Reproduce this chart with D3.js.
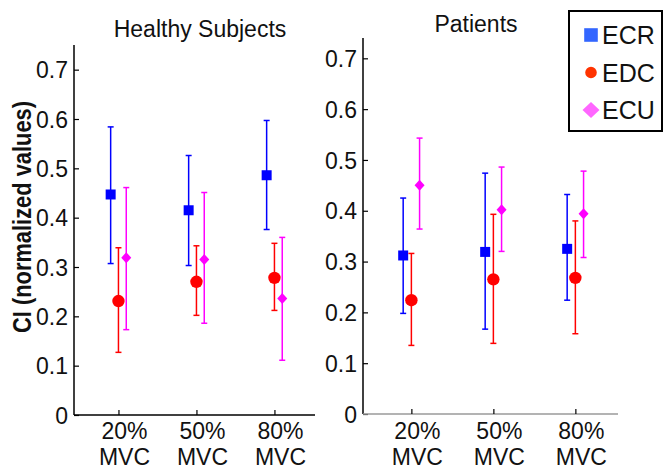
<!DOCTYPE html>
<html>
<head>
<meta charset="utf-8">
<script src="https://cdn.jsdelivr.net/npm/d3@7"></script>
<style>
  body { margin: 0; background: #fff; }
  text { font-family: 'Liberation Sans', Arial, sans-serif; fill: #111; }
</style>
</head>
<body>
<div id="chart"></div>
<script>
var d3 = window.d3

// categories and series
var categories = ['20%', '50%', '80%']
var muscles = ['ECR', 'EDC', 'ECU']
var yTicks = [0, 0.1, 0.2, 0.3, 0.4, 0.5, 0.6, 0.7]

// healthy subjects: mean, lower, upper
var healthyECR = [0.447, 0.415, 0.486]
var healthyECRLow = [0.307, 0.303, 0.376]
var healthyECRHigh = [0.584, 0.526, 0.597]
var healthyEDC = [0.231, 0.270, 0.278]
var healthyEDCLow = [0.127, 0.202, 0.212]
var healthyEDCHigh = [0.339, 0.343, 0.348]
var healthyECU = [0.319, 0.315, 0.236]
var healthyECULow = [0.173, 0.186, 0.111]
var healthyECUHigh = [0.461, 0.451, 0.360]

// patients: mean, lower, upper
var patientsECR = [0.312, 0.319, 0.325]
var patientsECRLow = [0.198, 0.167, 0.224]
var patientsECRHigh = [0.425, 0.474, 0.432]
var patientsEDC = [0.224, 0.265, 0.268]
var patientsEDCLow = [0.135, 0.139, 0.158]
var patientsEDCHigh = [0.316, 0.393, 0.380]
var patientsECU = [0.450, 0.402, 0.394]
var patientsECULow = [0.364, 0.320, 0.308]
var patientsECUHigh = [0.543, 0.486, 0.478]

var colors = { ECR: '#0000ff', EDC: '#ff0000', ECU: '#ff00ff' }
var legendColors = { ECR: '#3366ff', EDC: '#ff3300', ECU: '#ff66ff' }
var offsets = { ECR: -0.1, EDC: 0, ECU: 0.1 }

var w = 664
var h = 469

var svg = d3.select('#chart').append('svg')
  .attr('width', w)
  .attr('height', h)

function build (mean, low, high) {
  return mean.map(function (m, i) { return { idx: i + 1, mean: m, low: low[i], high: high[i] } })
}

var panels = [
  {
    title: 'Healthy Subjects', titleX: 200, titleY: 37,
    xRange: [74, 315], xDomain: [0.43, 3.52],
    yRange: [415, 45], yDomain: [0, 0.75],
    xAxisColor: '#000',
    series: {
      ECR: build(healthyECR, healthyECRLow, healthyECRHigh),
      EDC: build(healthyEDC, healthyEDCLow, healthyEDCHigh),
      ECU: build(healthyECU, healthyECULow, healthyECUHigh)
    }
  },
  {
    title: 'Patients', titleX: 476, titleY: 32,
    xRange: [363, 618], xDomain: [0.41, 3.52],
    yRange: [414, 38], yDomain: [0, 0.74],
    xAxisColor: '#9a9a9a',
    series: {
      ECR: build(patientsECR, patientsECRLow, patientsECRHigh),
      EDC: build(patientsEDC, patientsEDCLow, patientsEDCHigh),
      ECU: build(patientsECU, patientsECULow, patientsECUHigh)
    }
  }
]

function markerPath (name, s) {
  if (name === 'ECR') return 'M' + (-s) + ',' + (-s) + 'h' + (2 * s) + 'v' + (2 * s) + 'h' + (-2 * s) + 'Z'
  if (name === 'EDC') return d3.symbol().type(d3.symbolCircle).size(Math.PI * s * s)()
  return 'M0,' + (-s * 1.1) + 'L' + s + ',0L0,' + (s * 1.1) + 'L' + (-s) + ',0Z'
}
var markerSize = { ECR: 5, EDC: 6.2, ECU: 5 }

panels.forEach(function (p) {
  var x = d3.scaleLinear().domain(p.xDomain).range(p.xRange)
  var y = d3.scaleLinear().domain(p.yDomain).range(p.yRange)
  var g = svg.append('g')

  // y axis
  var yAxis = g.append('g')
    .attr('transform', 'translate(' + p.xRange[0] + ',0)')
    .call(d3.axisRight(y).tickValues(yTicks).tickSize(5).tickFormat(d3.format('')))
  yAxis.select('.domain').attr('d', 'M0,' + p.yRange[0] + 'V' + p.yRange[1]).attr('stroke', '#000').attr('stroke-width', 1.5)
  yAxis.selectAll('.tick line').attr('stroke', '#000').attr('stroke-width', 1.2)
  yAxis.selectAll('.tick text')
    .attr('x', -6)
    .attr('dy', '0.35em')
    .attr('text-anchor', 'end')
    .style('font-size', '23px')

  // x axis
  var xAxis = g.append('g')
    .attr('transform', 'translate(0,' + p.yRange[0] + ')')
    .call(d3.axisTop(x).tickValues([1, 2, 3]).tickSize(5).tickFormat(''))
  xAxis.select('.domain').attr('d', 'M' + p.xRange[0] + ',0H' + p.xRange[1]).attr('stroke', p.xAxisColor).attr('stroke-width', 1.5)
  xAxis.selectAll('.tick line').attr('stroke', '#000').attr('stroke-width', 1.2)

  categories.forEach(function (c, i) {
    var lbl = g.append('text')
      .attr('x', x(i + 1) + 6)
      .attr('text-anchor', 'middle')
      .style('font-size', '23px')
    lbl.append('tspan').attr('x', x(i + 1) + 6).attr('y', 439).text(c)
    lbl.append('tspan').attr('x', x(i + 1) + 6).attr('y', 465).text('MVC')
  })

  // title
  g.append('text').text(p.title)
    .attr('x', p.titleX)
    .attr('y', p.titleY)
    .attr('text-anchor', 'middle')
    .style('font-size', '23px')

  // error bars and markers
  muscles.forEach(function (m) {
    var data = p.series[m]
    var sg = g.append('g')
    var bars = sg.selectAll('g.bar').data(data).enter().append('g').attr('class', 'bar')
    bars.append('line')
      .attr('x1', function (d) { return x(d.idx + offsets[m]) })
      .attr('x2', function (d) { return x(d.idx + offsets[m]) })
      .attr('y1', function (d) { return y(d.low) })
      .attr('y2', function (d) { return y(d.high) })
      .attr('stroke', colors[m]).attr('stroke-width', 1.5)
    ;['low', 'high'].forEach(function (k) {
      bars.append('line')
        .attr('x1', function (d) { return x(d.idx + offsets[m]) - 3 })
        .attr('x2', function (d) { return x(d.idx + offsets[m]) + 3 })
        .attr('y1', function (d) { return y(d[k]) })
        .attr('y2', function (d) { return y(d[k]) })
        .attr('stroke', colors[m]).attr('stroke-width', 1.5)
    })
    sg.selectAll('path.mk').data(data).enter().append('path').attr('class', 'mk')
      .attr('d', markerPath(m, markerSize[m]))
      .attr('transform', function (d) { return 'translate(' + x(d.idx + offsets[m]) + ',' + y(d.mean) + ')' })
      .attr('fill', colors[m])
  })
})

// y label
svg.append('text').text('CI (normalized values)')
  .attr('transform', 'translate(31,217) rotate(-90)')
  .attr('text-anchor', 'middle')
  .attr('textLength', 232)
  .attr('lengthAdjust', 'spacingAndGlyphs')
  .style('font-size', '25px')
  .style('font-weight', 'bold')

// legend
var legend = svg.append('g')
legend.append('rect')
  .attr('x', 569).attr('y', 11).attr('width', 93).attr('height', 120)
  .attr('fill', '#fff').attr('stroke', '#000').attr('stroke-width', 2)
var legendScale = d3.scalePoint().domain(muscles).range([35, 110])
var legendMarkerSize = { ECR: 6.8, EDC: 5.8, ECU: 8 }
muscles.forEach(function (m) {
  legend.append('path')
    .attr('d', m === 'ECU'
      ? 'M0,-8L8.5,0L0,8L-8.5,0Z'
      : markerPath(m, legendMarkerSize[m]))
    .attr('transform', 'translate(591,' + legendScale(m) + ')')
    .attr('fill', legendColors[m])
  legend.append('text').text(m)
    .attr('x', 602)
    .attr('y', legendScale(m))
    .attr('dy', '0.36em')
    .style('font-size', '25px')
})
</script>
</body>
</html>
